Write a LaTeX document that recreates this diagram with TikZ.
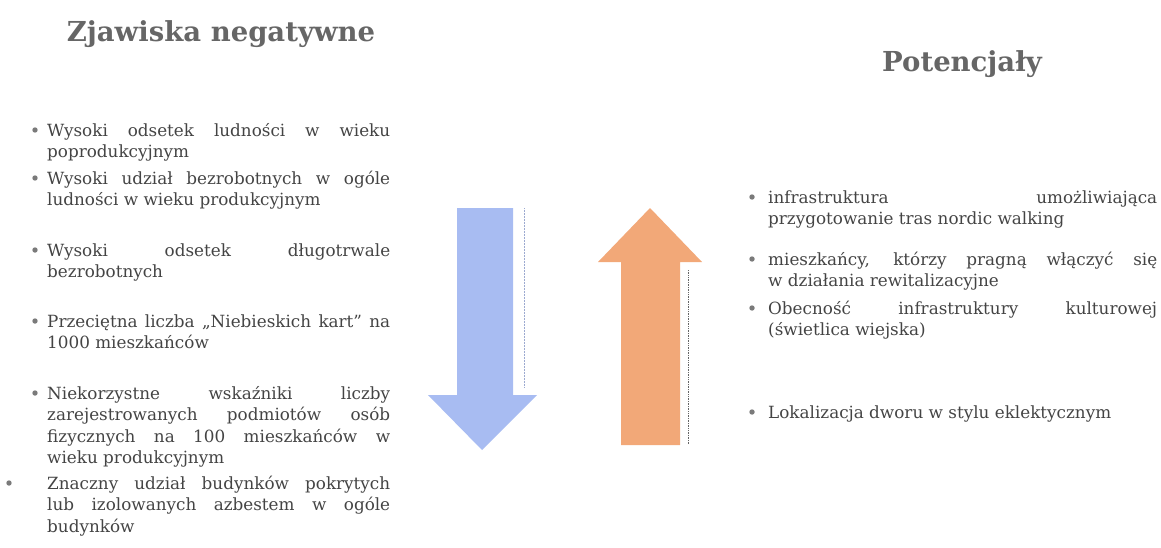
\documentclass[tikz,border=0pt]{standalone}
\usepackage{fontspec}
\setmainfont{DejaVu Serif}
\definecolor{txt}{HTML}{444444}
\definecolor{ttl}{HTML}{666666}
\definecolor{bulc}{HTML}{7A7A7A}
\definecolor{blueA}{HTML}{A8BCF2}
\definecolor{orangeA}{HTML}{F2A878}
\newcommand{\J}[1]{\makebox[\linewidth][s]{#1}}
\newcommand{\bodyfont}{\fontsize{16.8}{21.5}\selectfont}
\tikzset{
  itemL/.style={anchor=base west, inner sep=0pt, text=txt, font=\bodyfont},
  bul/.style={circle, fill=bulc, inner sep=0pt, minimum size=5.4pt},
  ttlnode/.style={anchor=base, inner sep=0pt, text=ttl, font=\fontsize{27.5}{30}\selectfont\bfseries},
}
\begin{document}
\begin{tikzpicture}[x=1pt,y=-1pt]
\useasboundingbox (0,0) rectangle (1161,547);
% titles
\node[ttlnode] (t1) at (221,41) {Zjawiska negatywne};
\node[ttlnode] (t2) at (962,71) {Potencjały};
% arrows
\fill[blueA] (457,208) -- (513,208) -- (513,395) -- (537,395) -- (482,450) -- (428,395) -- (457,395) -- cycle;
\draw[blueA!70!gray, densely dotted, line width=0.5pt] (524,208) -- (524,388);
\fill[orangeA] (650,208) -- (702,262) -- (680,262) -- (680,445) -- (621,445) -- (621,262) -- (598,262) -- cycle;
\draw[gray!80!black, densely dotted, line width=0.7pt] (688,270) -- (688,445);
% left items
\node[itemL] (l1) at (47,136) {\parbox[t]{343pt}{\J{Wysoki odsetek ludności w wieku}\\poprodukcyjnym}};
\node[itemL] (l2) at (47,184) {\parbox[t]{343pt}{\J{Wysoki udział bezrobotnych w ogóle}\\ludności w wieku produkcyjnym}};
\node[itemL] (l3) at (47,256) {\parbox[t]{343pt}{\J{Wysoki odsetek długotrwale}\\bezrobotnych}};
\node[itemL] (l4) at (47,327) {\parbox[t]{343pt}{\J{Przeciętna liczba „Niebieskich kart” na}\\1000 mieszkańców}};
\node[itemL] (l5) at (47,399) {\parbox[t]{343pt}{\J{Niekorzystne wskaźniki liczby}\\\J{zarejestrowanych podmiotów osób}\\\J{fizycznych na 100 mieszkańców w}\\wieku produkcyjnym}};
\node[itemL] (l6) at (47,489) {\parbox[t]{343pt}{\J{Znaczny udział budynków pokrytych}\\\J{lub izolowanych azbestem w ogóle}\\budynków}};
\node[bul] (b1) at (35,130) {};
\node[bul] (b2) at (35,178) {};
\node[bul] (b3) at (35,250) {};
\node[bul] (b4) at (35,321) {};
\node[bul] (b5) at (35,393) {};
\node[bul] (b6) at (9,483) {};
% right items
\node[itemL] (r1) at (768,203) {\parbox[t]{389pt}{\J{infrastruktura umożliwiająca}\\przygotowanie tras nordic walking}};
\node[itemL] (r2) at (768,265) {\parbox[t]{389pt}{\J{mieszkańcy, którzy pragną włączyć się}\\w działania rewitalizacyjne}};
\node[itemL] (r3) at (768,314) {\parbox[t]{389pt}{\J{Obecność infrastruktury kulturowej}\\(świetlica wiejska)}};
\node[itemL] (r4) at (768,418) {Lokalizacja dworu w stylu eklektycznym};
\node[bul] (c1) at (752,197) {};
\node[bul] (c2) at (752,259) {};
\node[bul] (c3) at (752,308) {};
\node[bul] (c4) at (752,412) {};
\end{tikzpicture}
\end{document}
